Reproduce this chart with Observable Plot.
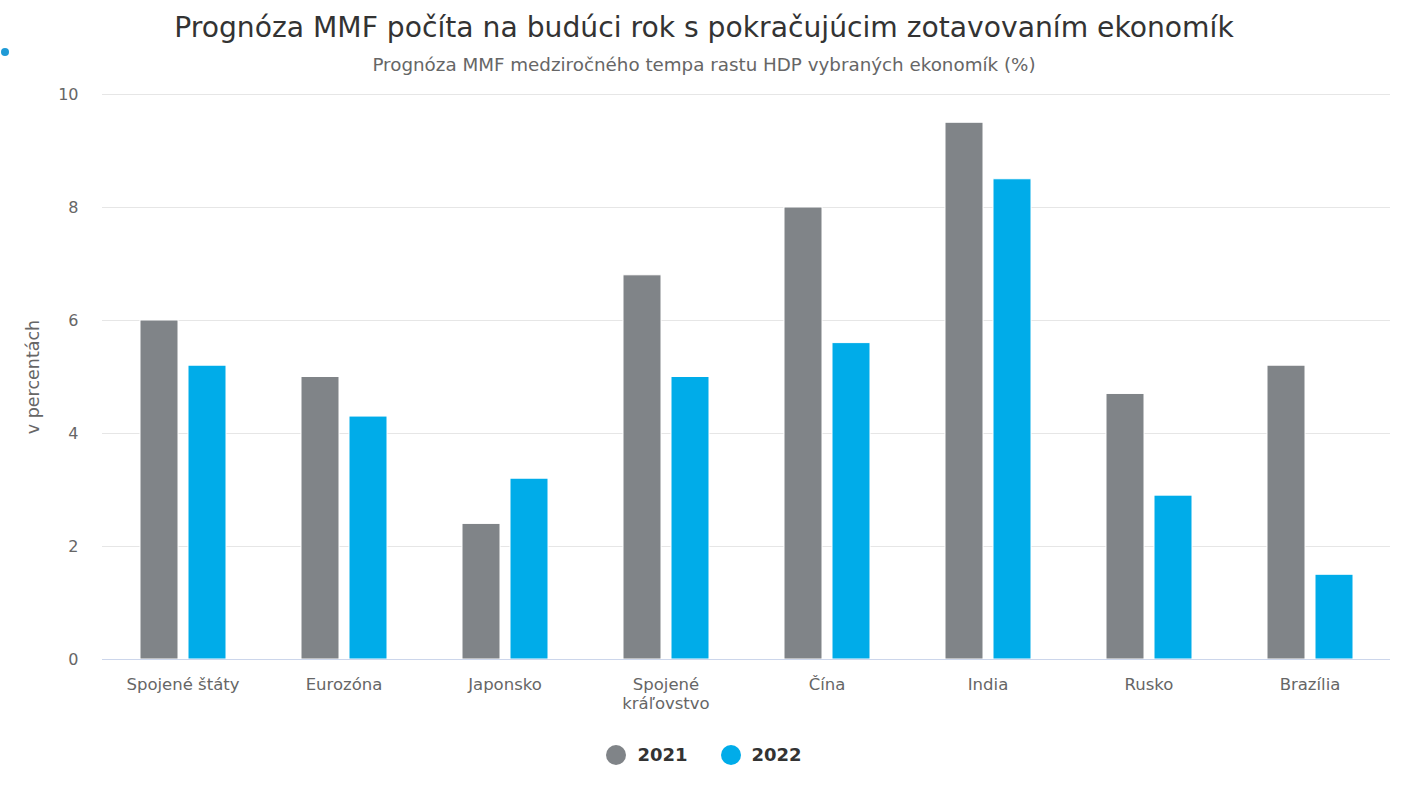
<!DOCTYPE html>
<html>
<head>
<meta charset="utf-8">
<script src="https://cdn.jsdelivr.net/npm/d3@7"></script>
<script src="https://cdn.jsdelivr.net/npm/@observablehq/plot@0.6"></script>
<style>
  html, body { margin: 0; padding: 0; background: #fff; }
  body { width: 1408px; height: 800px; position: relative; font-family: "DejaVu Sans", sans-serif; overflow: hidden; }
  #title { position: absolute; left: 0; width: 1408px; top: 11px; text-align: center; font-size: 28.2px; color: #333; white-space: nowrap; }
  #subtitle { position: absolute; left: 0; width: 1408px; top: 54px; text-align: center; font-size: 18.3px; color: #666; white-space: nowrap; }
  #dot { position: absolute; left: 1px; top: 48px; width: 8px; height: 8px; border-radius: 50%; background: #1f9ad6; }
  #chart { position: absolute; left: 0; top: 80px; }
  #ylabel { position: absolute; left: 33px; top: 377px; transform: translate(-50%, -50%) rotate(-90deg); font-size: 17.5px; color: #666; white-space: nowrap; }
  #legend { position: absolute; left: 0; top: 744px; width: 1408px; display: flex; justify-content: center; gap: 33px; font-size: 18px; font-weight: bold; color: #333; }
  .item { display: flex; align-items: center; gap: 11px; }
  .sw { width: 20px; height: 20px; border-radius: 50%; display: inline-block; }
</style>
</head>
<body>
<div id="dot"></div>
<div id="title">Prognóza MMF počíta na budúci rok s pokračujúcim zotavovaním ekonomík</div>
<div id="subtitle">Prognóza MMF medziročného tempa rastu HDP vybraných ekonomík (%)</div>
<div id="chart"></div>
<div id="ylabel"></div>
<div id="legend"></div>
<script>
const categories = ["Spojené štáty", "Eurozóna", "Japonsko", "Spojené kráľovstvo", "Čína", "India", "Rusko", "Brazília"];
const categoryLabels = ["Spojené štáty", "Eurozóna", "Japonsko", "Spojené\nkráľovstvo", "Čína", "India", "Rusko", "Brazília"];
const seriesNames = ["2021", "2022"];
const values2021 = [6.0, 5.0, 2.4, 6.8, 8.0, 9.5, 4.7, 5.2];
const values2022 = [5.2, 4.3, 3.2, 5.0, 5.6, 8.5, 2.9, 1.5];
const seriesColors = ["#808488", "#00ace9"];
const yTicks = [0, 2, 4, 6, 8, 10];
const yLabel = "v percentách";

const data = [];
categories.forEach((c, i) => {
  data.push({country: c, series: seriesNames[0], value: values2021[i]});
  data.push({country: c, series: seriesNames[1], value: values2022[i]});
});
const labelOf = new Map(categories.map((c, i) => [c, categoryLabels[i]]));

const chart = Plot.plot({
  width: 1408,
  height: 640,
  marginLeft: 100,
  marginRight: 16,
  marginTop: 14,
  marginBottom: 61,
  style: { fontFamily: "DejaVu Sans, sans-serif", fontSize: "16px", color: "#666", background: "#fff" },
  fx: { domain: categories, padding: 0, label: null, axis: null },
  x: { domain: seriesNames, paddingInner: 0.21, paddingOuter: 0.78, axis: null },
  y: { domain: [0, 10], axis: null },
  color: { domain: seriesNames, range: seriesColors },
  marks: [
    Plot.ruleY(yTicks.filter(t => t > 0), { stroke: "#e6e6e6", strokeWidth: 1 }),
    Plot.barY(data, { fx: "country", x: "series", y: "value", fill: "series", stroke: "#fff", strokeWidth: 1 }),
    Plot.ruleY([0], { stroke: "#ccd6eb", strokeWidth: 1 }),
    Plot.axisY({ ticks: yTicks, tickSize: 0, tickPadding: 24, fontSize: 16, label: null }),
    Plot.axisFx({ anchor: "bottom", tickSize: 0, tickPadding: 17, fontSize: 16.5, lineHeight: 1.15, label: null, tickFormat: d => labelOf.get(d) })
  ]
});
document.getElementById("chart").appendChild(chart);
document.getElementById("ylabel").textContent = yLabel;

const legend = document.getElementById("legend");
seriesNames.forEach((s, i) => {
  const it = document.createElement("div");
  it.className = "item";
  it.innerHTML = `<span class="sw" style="background:${seriesColors[i]}"></span><span>${s}</span>`;
  legend.appendChild(it);
});
</script>
</body>
</html>
